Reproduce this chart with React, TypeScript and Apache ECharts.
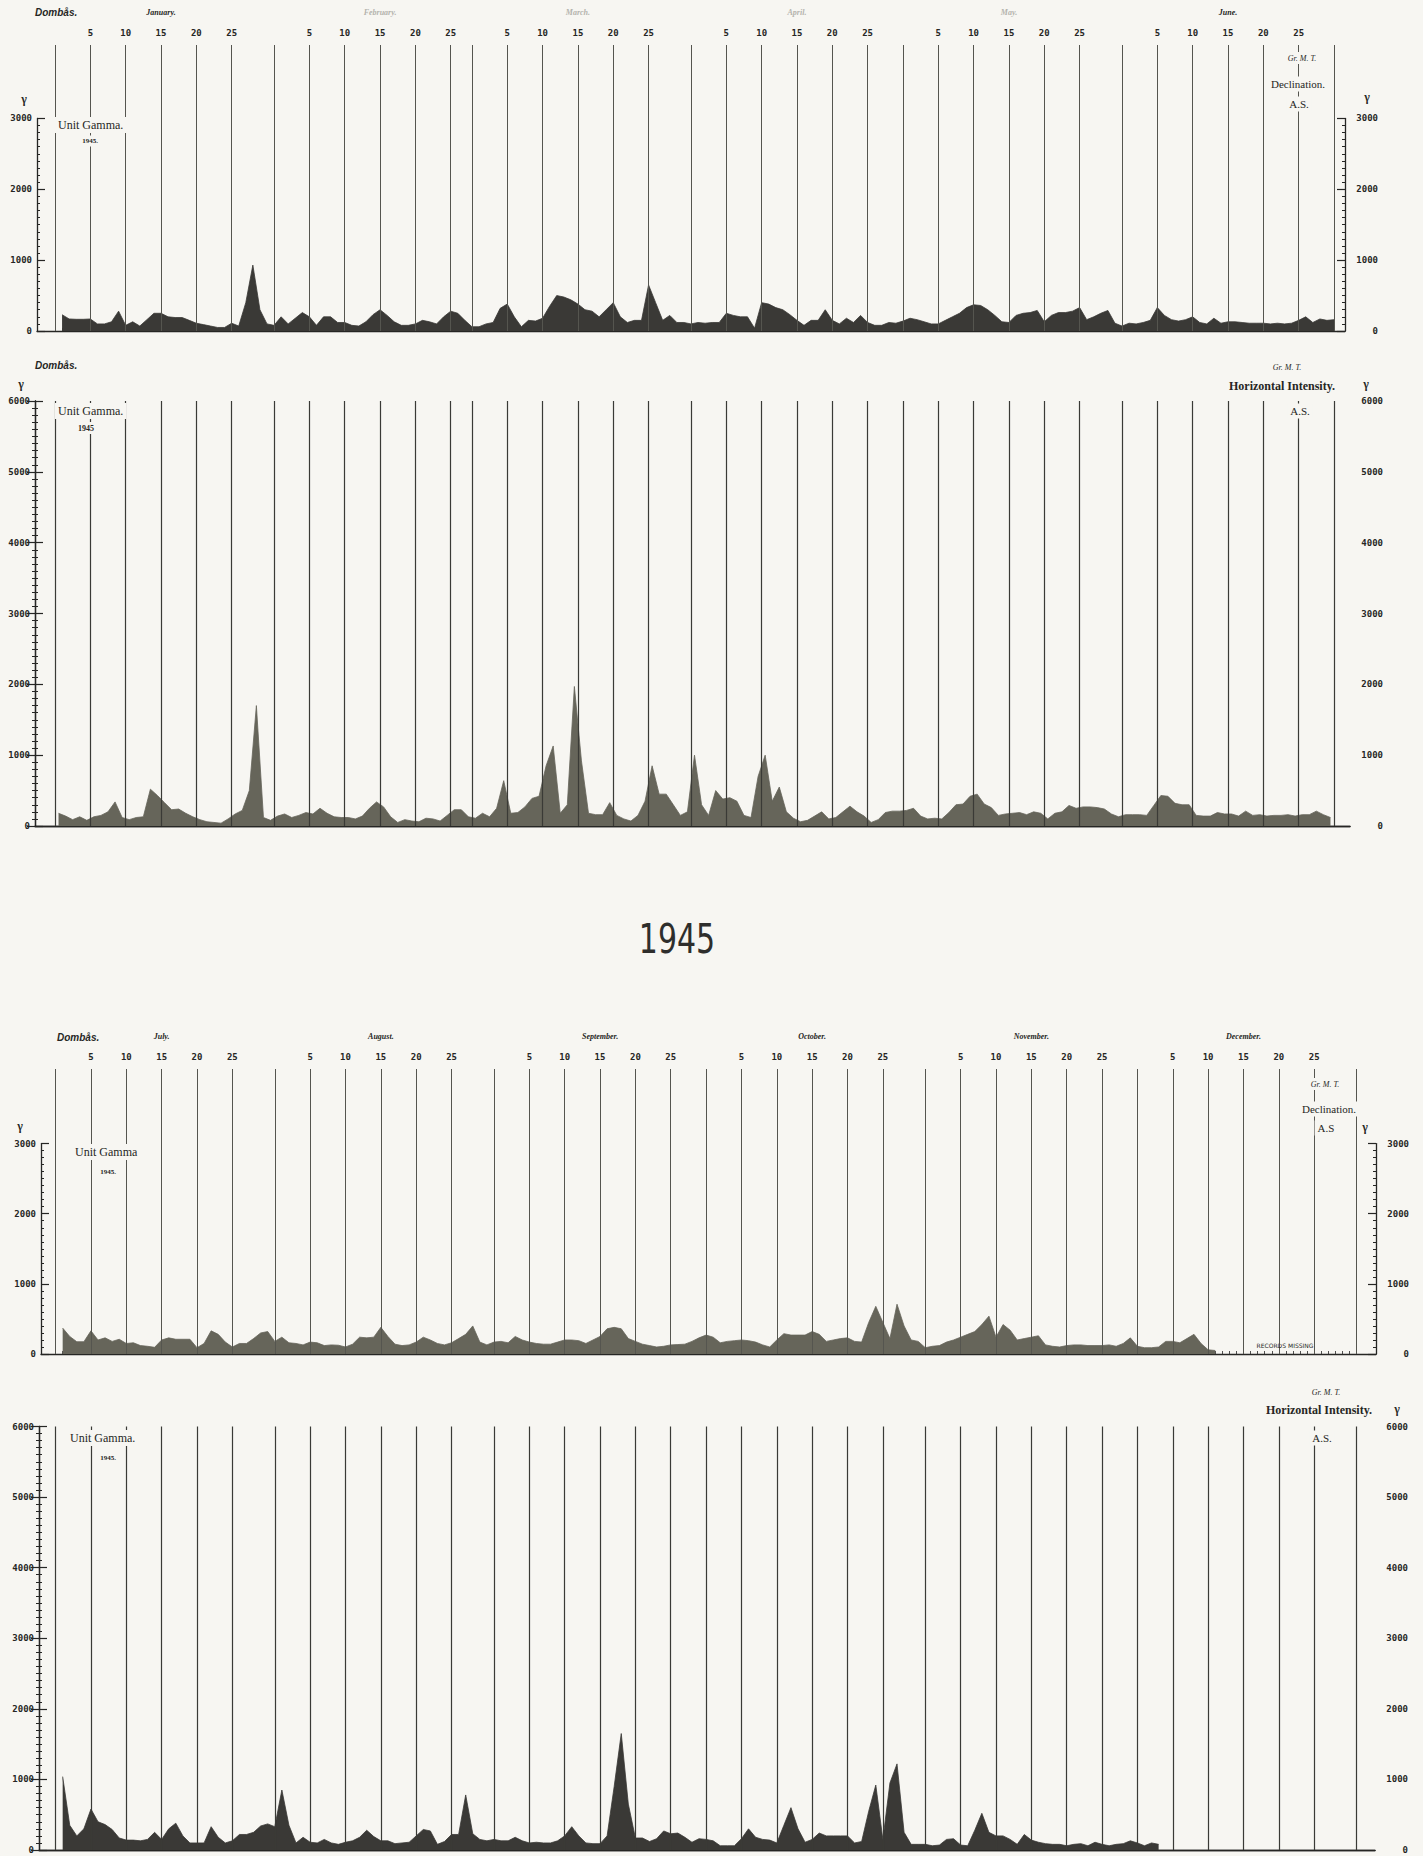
import React, { useEffect, useRef } from "react";
import * as echarts from "echarts";

// ---------- calendar ----------
const H1_MONTH_DAYS = [31, 28, 31, 30, 31, 30];
const H2_MONTH_DAYS = [31, 31, 30, 31, 30, 31];
const H1_MONTH_NAMES = ["January.", "February.", "March.", "April.", "May.", "June."];
const H2_MONTH_NAMES = ["July.", "August.", "September.", "October.", "November.", "December."];
const DAY_TICK_LABELS = [5, 10, 15, 20, 25];

// ---------- Declination, Jan–Jun 1945 (gamma, daily range) ----------
const janD = [230, 170, 165, 165, 170, 100, 100, 130, 280, 80, 130, 70, 160, 250, 250, 200, 190, 190, 150, 110, 90, 70, 50, 50, 110, 70, 400, 930, 300, 100, 80];
const febD = [200, 100, 180, 260, 200, 80, 200, 200, 120, 120, 80, 70, 130, 230, 300, 220, 130, 80, 80, 100, 150, 130, 100, 200, 280, 250, 150, 60];
const marD = [60, 100, 120, 320, 380, 200, 60, 150, 140, 180, 350, 500, 480, 440, 380, 300, 280, 200, 300, 400, 200, 120, 150, 150, 650, 400, 150, 220, 120, 120, 100];
const aprD = [120, 110, 120, 120, 250, 220, 200, 200, 40, 400, 380, 330, 300, 230, 150, 80, 150, 150, 300, 150, 100, 180, 120, 220, 120, 80, 80, 120, 110, 140];
const mayD = [180, 160, 130, 100, 100, 150, 200, 250, 330, 370, 360, 300, 220, 130, 120, 220, 250, 260, 290, 130, 220, 260, 260, 280, 330, 160, 200, 250, 290, 110, 70];
const junD = [110, 100, 120, 150, 330, 220, 160, 140, 160, 200, 120, 100, 180, 110, 130, 130, 120, 110, 110, 110, 100, 110, 100, 110, 150, 200, 120, 170, 150, 160];

// ---------- Horizontal Intensity, Jan–Jun 1945 ----------
const janH = [180, 140, 90, 130, 80, 130, 150, 200, 340, 120, 90, 120, 130, 520, 430, 330, 230, 240, 180, 130, 90, 60, 50, 40, 100, 170, 220, 500, 1700, 120, 80];
const febH = [140, 170, 120, 150, 190, 170, 250, 180, 130, 120, 120, 100, 140, 250, 340, 270, 130, 50, 90, 70, 60, 110, 100, 70, 150, 230, 230, 130];
const marH = [110, 180, 130, 250, 640, 180, 190, 270, 390, 420, 850, 1130, 180, 300, 1970, 920, 180, 160, 160, 330, 150, 100, 70, 150, 350, 850, 450, 450, 300, 150, 200];
const aprH = [1000, 300, 150, 500, 380, 400, 350, 150, 120, 700, 1000, 350, 550, 200, 110, 60, 80, 140, 200, 100, 120, 200, 280, 200, 140, 50, 90, 190, 210, 210];
const mayH = [220, 250, 140, 100, 110, 100, 190, 300, 310, 420, 450, 310, 260, 150, 170, 180, 190, 160, 200, 180, 100, 180, 200, 290, 250, 270, 270, 260, 240, 170, 130];
const junH = [160, 160, 160, 150, 290, 430, 420, 320, 300, 300, 150, 140, 140, 190, 170, 170, 140, 210, 150, 160, 140, 150, 150, 160, 140, 160, 160, 210, 160, 120];

// ---------- Declination, Jul–Dec 1945 (records missing after Dec 11) ----------
const julD = [370, 250, 175, 175, 330, 200, 230, 180, 210, 150, 160, 120, 110, 95, 200, 230, 210, 210, 210, 90, 150, 330, 280, 170, 100, 150, 150, 220, 300, 320, 180];
const augD = [240, 160, 150, 130, 170, 160, 120, 130, 125, 100, 140, 240, 230, 240, 380, 250, 140, 120, 130, 170, 240, 200, 150, 130, 160, 220, 280, 400, 170, 130, 170];
const sepD = [180, 160, 250, 200, 170, 150, 140, 140, 170, 200, 200, 190, 150, 200, 250, 360, 380, 360, 220, 180, 140, 120, 100, 110, 130, 135, 140, 180, 230, 270];
const octD = [240, 160, 180, 190, 200, 190, 170, 130, 100, 200, 290, 270, 270, 270, 320, 280, 180, 200, 220, 230, 180, 170, 450, 680, 450, 220, 710, 400, 200, 180, 90];
const novD = [110, 120, 170, 200, 240, 280, 320, 420, 540, 240, 420, 340, 200, 220, 240, 260, 130, 110, 100, 120, 130, 130, 120, 120, 120, 130, 110, 150, 230, 110];
const decD = [90, 90, 100, 180, 180, 160, 220, 280, 150, 60, 50];

// ---------- Horizontal Intensity, Jul–Dec 1945 ----------
const julH = [1040, 350, 200, 300, 580, 400, 360, 290, 170, 140, 140, 130, 150, 250, 150, 300, 380, 200, 100, 100, 100, 330, 180, 100, 130, 220, 220, 250, 340, 370, 330];
const augH = [850, 350, 100, 180, 110, 100, 150, 100, 80, 110, 130, 180, 280, 190, 130, 130, 90, 100, 110, 200, 290, 270, 80, 120, 220, 220, 780, 230, 150, 130, 150];
const sepH = [130, 130, 180, 130, 100, 110, 100, 100, 130, 200, 330, 200, 100, 90, 90, 200, 900, 1650, 650, 170, 170, 120, 160, 270, 230, 240, 180, 110, 160, 150];
const octH = [130, 60, 60, 60, 160, 300, 180, 150, 140, 100, 350, 600, 300, 110, 150, 240, 200, 200, 200, 200, 100, 120, 550, 920, 150, 950, 1220, 250, 80, 80, 80];
const novH = [60, 70, 150, 160, 70, 60, 280, 520, 250, 200, 200, 150, 80, 220, 140, 110, 90, 80, 80, 60, 80, 90, 60, 110, 80, 60, 80, 90, 130, 100];
const decH = [60, 100, 80];

// ---------- styling ----------
const BG = "#f7f6f2";
const INK = "#262624";
const NUM_FONT = "DejaVu Sans Mono";
const SERIF = "Liberation Serif";

function buildHalf(monthDays: number[], names: string[]) {
  const starts: number[] = [];
  let acc = 0;
  monthDays.forEach((d) => {
    starts.push(acc);
    acc += d;
  });
  const total = acc;
  const lines: number[] = [];
  const labelVals: number[] = [];
  const labelMap: Record<number, number> = {};
  starts.forEach((s) => {
    lines.push(s);
    DAY_TICK_LABELS.forEach((d) => {
      lines.push(s + d);
      labelVals.push(s + d);
      labelMap[s + d] = d;
    });
  });
  lines.push(total);
  const ticks = Array.from({ length: total + 1 }, (_, i) => i);
  const mids = starts.map((s) => s + 15);
  const nameMap: Record<number, string> = {};
  mids.forEach((m, i) => (nameMap[m] = names[i]));
  return { total, lines, labelVals, labelMap, ticks, mids, nameMap };
}

const H1 = buildHalf(H1_MONTH_DAYS, H1_MONTH_NAMES);
const H2 = buildHalf(H2_MONTH_DAYS, H2_MONTH_NAMES);

// anchor: where within each day the daily value is drawn (0.5 = midday, 1 = end of day)
const toSeries = (months: number[][], anchor: number) =>
  months.flat().map((v, i) => [i + anchor, v]);

const PANELS = [
  {
    half: H1, data: toSeries([janD, febD, marD, aprD, mayD, junD], 1), color: "#3a3936",
    main: { left: 55, width: 1279, top: 45, height: 286 }, yMax: 4036,
    scale: { left: 37, width: 1308, top: 118.4, height: 212.6 }, sMax: 3000,
    dateAxis: true, frameTop: false, faintMonths: true, gridLine: { color: "#55554f", width: 1 },
  },
  {
    half: H1, data: toSeries([janH, febH, marH, aprH, mayH, junH], 0.5), color: "#66655a",
    main: { left: 55, width: 1279, top: 401, height: 425 }, yMax: 6000,
    scale: { left: 35, width: 1315, top: 401, height: 425 }, sMax: 6000,
    dateAxis: false, frameTop: true, faintMonths: false, gridLine: { color: "#3a3a36", width: 1.2 },
  },
  {
    half: H2, data: toSeries([julD, augD, sepD, octD, novD, decD], 1), color: "#66655a",
    main: { left: 55.6, width: 1301, top: 1069, height: 285 }, yMax: 4064,
    scale: { left: 41, width: 1335, top: 1143.6, height: 210.4 }, sMax: 3000,
    dateAxis: true, frameTop: false, faintMonths: false, gridLine: { color: "#55554f", width: 1 },
  },
  {
    half: H2, data: toSeries([julH, augH, sepH, octH, novH, decH], 1), color: "#3a3936",
    main: { left: 55.6, width: 1301, top: 1426.5, height: 423.5 }, yMax: 6000,
    scale: { left: 39, width: 1336, top: 1426.5, height: 423.5 }, sMax: 6000,
    dateAxis: false, frameTop: true, faintMonths: false, gridLine: { color: "#3a3a36", width: 1.2 },
  },
];

type T = { t: string; x: number; y: number; font: string; align?: string; bg?: boolean; color?: string; sy?: number };
const TEXTS: T[] = [
  // panel 1
  { t: "Dombås.", x: 35, y: 12, font: "italic bold 10px 'Liberation Sans'", align: "left" },
  { t: "γ", x: 24, y: 99, font: "bold 12px 'Liberation Serif'" },
  { t: "γ", x: 1367, y: 97, font: "bold 12px 'Liberation Serif'" },
  { t: "Unit Gamma.", x: 55, y: 125, font: `12px '${SERIF}'`, align: "left", bg: true },
  { t: "1945.", x: 90, y: 141, font: `bold 7px '${SERIF}'`, bg: true },
  { t: "Gr. M. T.", x: 1302, y: 58, font: `italic 8px '${SERIF}'`, bg: true },
  { t: "Declination.", x: 1298, y: 84, font: `11px '${SERIF}'`, bg: true },
  { t: "A.S.", x: 1299, y: 104, font: `11px '${SERIF}'`, bg: true },
  // panel 2
  { t: "Dombås.", x: 35, y: 365, font: "italic bold 10px 'Liberation Sans'", align: "left" },
  { t: "γ", x: 21, y: 384, font: "bold 12px 'Liberation Serif'" },
  { t: "γ", x: 1366, y: 384, font: "bold 12px 'Liberation Serif'" },
  { t: "Unit Gamma.", x: 55, y: 411, font: `12px '${SERIF}'`, align: "left", bg: true },
  { t: "1945", x: 86, y: 428, font: `bold 8px '${SERIF}'`, bg: true },
  { t: "Gr. M. T.", x: 1287, y: 367, font: `italic 8px '${SERIF}'` },
  { t: "Horizontal Intensity.", x: 1282, y: 386, font: `bold 12px '${SERIF}'` },
  { t: "A.S.", x: 1300, y: 411, font: `11px '${SERIF}'`, bg: true },
  // centre title
  { t: "1945", x: 677, y: 939, font: "30px 'DejaVu Sans'", sy: 1.35, color: "#2e2e2c" },
  // panel 3
  { t: "Dombås.", x: 57, y: 1037, font: "italic bold 10px 'Liberation Sans'", align: "left" },
  { t: "γ", x: 20, y: 1126, font: "bold 12px 'Liberation Serif'" },
  { t: "γ", x: 1365, y: 1127, font: "bold 12px 'Liberation Serif'" },
  { t: "Unit Gamma", x: 72, y: 1152, font: `12px '${SERIF}'`, align: "left", bg: true },
  { t: "1945.", x: 108, y: 1172, font: `bold 7px '${SERIF}'`, bg: true },
  { t: "Gr. M. T.", x: 1325, y: 1084, font: `italic 8px '${SERIF}'`, bg: true },
  { t: "Declination.", x: 1329, y: 1109, font: `11px '${SERIF}'`, bg: true },
  { t: "A.S", x: 1326, y: 1128, font: `11px '${SERIF}'`, bg: true },
  { t: "RECORDS MISSING", x: 1285, y: 1345, font: "6px 'DejaVu Sans'" },
  // panel 4
  { t: "Gr. M. T.", x: 1326, y: 1392, font: `italic 8px '${SERIF}'` },
  { t: "Horizontal Intensity.", x: 1319, y: 1410, font: `bold 12px '${SERIF}'` },
  { t: "γ", x: 1397, y: 1409, font: "bold 12px 'Liberation Serif'" },
  { t: "Unit Gamma.", x: 67, y: 1438, font: `12px '${SERIF}'`, align: "left", bg: true },
  { t: "1945.", x: 108, y: 1458, font: `bold 7px '${SERIF}'`, bg: true },
  { t: "A.S.", x: 1322, y: 1438, font: `11px '${SERIF}'`, bg: true },
];

function buildOption() {
  const grid: any[] = [];
  const xAxis: any[] = [];
  const yAxis: any[] = [];
  const series: any[] = [];
  const numLabel = { fontFamily: NUM_FONT, fontWeight: "bold", fontSize: 9, color: INK };

  PANELS.forEach((p) => {
    const half = p.half;
    const gMain = grid.length;
    grid.push({ left: p.main.left, top: p.main.top, width: p.main.width, height: p.main.height });
    const gScale = grid.length;
    grid.push({ left: p.scale.left, top: p.scale.top, width: p.scale.width, height: p.scale.height });

    const xMain = xAxis.length;
    xAxis.push({
      type: "value", gridIndex: gMain, min: 0, max: half.total, position: "top",
      axisLine: { show: p.dateAxis, lineStyle: { color: INK, width: 1 } },
      axisTick: { show: p.dateAxis, customValues: half.ticks, length: 3, lineStyle: { color: INK, width: 0.8 } },
      axisLabel: {
        show: p.dateAxis, customValues: half.labelVals, margin: 8, ...numLabel,
        formatter: (v: number) => String(half.labelMap[Math.round(v)] ?? ""),
      },
      splitLine: { show: false },
    });
    if (p.dateAxis) {
      xAxis.push({
        type: "value", gridIndex: gMain, min: 0, max: half.total, position: "top", offset: 27,
        axisLine: { show: false }, axisTick: { show: false }, splitLine: { show: false },
        axisLabel: {
          show: true, customValues: half.mids, margin: 2,
          fontFamily: "Liberation Serif", fontStyle: "italic", fontWeight: "bold", fontSize: 8,
          color: (v: any) => {
            const name = half.nameMap[Math.round(Number(v))] || "";
            if (!p.faintMonths) return INK;
            return name === "January." || name === "June." ? INK : "#b4b3ad";
          },
          formatter: (v: number) => half.nameMap[Math.round(v)] || "",
        },
      });
    }
    const yMain = yAxis.length;
    yAxis.push({ type: "value", gridIndex: gMain, min: 0, max: p.yMax, show: false, splitLine: { show: false } });

    // scale frame
    xAxis.push({
      type: "value", gridIndex: gScale, min: 0, max: 1, position: "bottom",
      axisLine: { show: true, lineStyle: { color: INK, width: 1.3 } },
      axisTick: { show: false }, axisLabel: { show: false }, splitLine: { show: false },
    });
    if (p.frameTop) {
      xAxis.push({
        type: "value", gridIndex: gScale, min: 0, max: 1, position: "top",
        axisLine: { show: true, lineStyle: { color: INK, width: 1.3 } },
        axisTick: { show: false }, axisLabel: { show: false }, splitLine: { show: false },
      });
    }
    ["left", "right"].forEach((pos) => {
      yAxis.push({
        type: "value", gridIndex: gScale, min: 0, max: p.sMax, interval: 1000, position: pos,
        axisLine: { show: true, lineStyle: { color: INK, width: 1.3 } },
        axisTick: { show: true, inside: true, length: 8, lineStyle: { color: INK, width: 1.2 } },
        minorTick: { show: true, splitNumber: 10, length: 3, lineStyle: { color: INK, width: 1 } },
        axisLabel: pos === "left"
          ? { margin: 5, ...numLabel, formatter: (v: number) => String(v) }
          : { margin: 33, align: "right", ...numLabel, formatter: (v: number) => String(v) },
        splitLine: { show: false }, minorSplitLine: { show: false },
      });
    });

    series.push({
      type: "line", xAxisIndex: xMain, yAxisIndex: yMain, data: p.data,
      symbol: "none", showSymbol: false, silent: true, z: 2,
      lineStyle: { width: 0.8, color: p.color }, itemStyle: { color: p.color },
      areaStyle: { color: p.color, opacity: 1 },
      markLine: {
        silent: true, symbol: ["none", "none"], label: { show: false },
        lineStyle: { color: p.gridLine.color, width: p.gridLine.width, type: "solid" },
        emphasis: { disabled: true },
        data: half.lines.map((v) => ({ xAxis: v })),
      },
    });
  });

  const graphic = TEXTS.map((t) => ({
    type: "text", x: t.x, y: t.y, z: 100, scaleY: t.sy || 1, originX: 0, originY: 0,
    style: {
      text: t.t, font: t.font, fill: t.color || INK,
      textAlign: t.align || "center", textVerticalAlign: "middle",
      backgroundColor: t.bg ? BG : undefined, padding: t.bg ? [2, 3, 2, 3] : 0,
    },
  }));

  return { animation: false, backgroundColor: BG, grid, xAxis, yAxis, series, graphic };
}

export default function App() {
  const ref = useRef<HTMLDivElement>(null);
  useEffect(() => {
    if (!ref.current) return;
    const chart = echarts.init(ref.current, undefined, { renderer: "svg" });
    chart.setOption(buildOption() as any);
    return () => chart.dispose();
  }, []);
  return (
    <div
      ref={ref}
      style={{ position: "absolute", left: 0, top: 0, width: 1423, height: 1856, background: BG }}
    />
  );
}
